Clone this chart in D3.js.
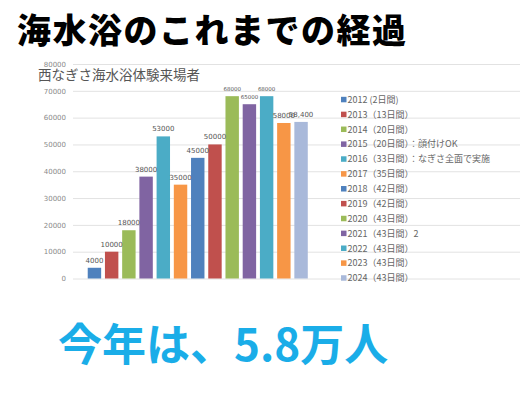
<!DOCTYPE html>
<html>
<head>
<meta charset="utf-8">
<script src="https://cdn.jsdelivr.net/npm/d3@7"></script>
<style>
  body { margin: 0; background: #fff; }
  svg { display: block; }
</style>
</head>
<body>
<div id="chart"></div>
<script>
// data
const years = ["2012", "2013", "2014", "2015", "2016", "2017", "2018", "2019", "2020", "2021", "2022", "2023", "2024"];
const visitors = [4000, 10000, 18000, 38000, 53000, 35000, 45000, 50000, 68000, 65000, 68000, 58000, 58400];
const valueLabels = ["4000", "10000", "18000", "38000", "53000", "35000", "45000", "50000", "68000", "65000", "68000", "58000", "58,400"];
const legendLabels = [
  "2012 (2日間)",
  "2013（13日間）",
  "2014（20日間）",
  "2015（20日間）：顔付けOK",
  "2016（33日間）：なぎさ全面で実施",
  "2017（35日間）",
  "2018（42日間）",
  "2019（42日間）",
  "2020（43日間）",
  "2021（43日間）2",
  "2022（43日間）",
  "2023（43日間）",
  "2024（43日間）"
];
const yTicks = [0, 10000, 20000, 30000, 40000, 50000, 60000, 70000, 80000];
const colors = ["#4F81BD", "#C0504D", "#9BBB59", "#8064A2", "#4BACC6", "#F79646",
  "#4F81BD", "#C0504D", "#9BBB59", "#8064A2", "#4BACC6", "#F79646", "#A9B9DA"];

const W = 525, H = 393;
const font = "'Noto Sans CJK JP', 'Noto Sans', sans-serif";

const svg = d3.select("#chart").append("svg")
  .attr("width", W)
  .attr("height", H);

// heading
svg.append("text")
  .attr("x", 17)
  .attr("y", 43)
  .attr("font-family", font)
  .attr("font-size", 34)
  .attr("font-weight", 900)
  .attr("letter-spacing", 1.5)
  .attr("fill", "#000")
  .text("海水浴のこれまでの経過");

// ************** chart area *****************
const x = d3.scaleBand()
  .domain(years)
  .range([86, 309.5])
  .paddingInner(0.22)
  .paddingOuter(0.1);

const y = d3.scaleLinear()
  .domain([0, 80000])
  .range([278.5, 64]);

// gridlines
svg.append("g")
  .selectAll("line")
  .data(yTicks)
  .join("line")
  .attr("x1", 73)
  .attr("x2", 520)
  .attr("y1", d => y(d) + 0.5)
  .attr("y2", d => y(d) + 0.5)
  .attr("stroke", "#e2e2e2")
  .attr("stroke-width", 1);

// y axis labels
const yAxis = d3.axisLeft(y).tickValues(yTicks).tickFormat(d3.format("d")).tickSize(0).tickPadding(0);
const yg = svg.append("g")
  .attr("transform", "translate(66,0)")
  .call(yAxis);
yg.select(".domain").remove();
yg.selectAll("text")
  .attr("font-family", "'DejaVu Sans', sans-serif")
  .attr("font-size", 7)
  .attr("fill", "#8a8a8a");

// chart title
svg.append("text")
  .attr("x", 38)
  .attr("y", 80)
  .attr("font-family", font)
  .attr("font-size", 13.5)
  .attr("fill", "#555")
  .text("西なぎさ海水浴体験来場者");

// bars
svg.append("g")
  .selectAll("rect")
  .data(visitors)
  .join("rect")
  .attr("x", (d, i) => x(years[i]))
  .attr("y", d => y(d))
  .attr("width", x.bandwidth())
  .attr("height", d => y(0) - y(d))
  .attr("fill", (d, i) => colors[i]);

// value labels
svg.append("g")
  .selectAll("text")
  .data(visitors)
  .join("text")
  .attr("x", (d, i) => x(years[i]) + x.bandwidth() / 2)
  .attr("y", d => y(d) - 5)
  .attr("text-anchor", "middle")
  .attr("font-family", "'DejaVu Sans', sans-serif")
  .attr("font-size", d => d >= 60000 ? 5.5 : 7)
  .attr("fill", "#555")
  .text((d, i) => valueLabels[i]);

// legend
const legend = svg.append("g")
  .selectAll("g")
  .data(legendLabels)
  .join("g")
  .attr("transform", (d, i) => `translate(341,${99.3 + i * 14.87})`);

legend.append("rect")
  .attr("x", 0)
  .attr("y", -2.5)
  .attr("width", 5.5)
  .attr("height", 5.5)
  .attr("fill", (d, i) => colors[i]);

legend.append("text")
  .attr("x", 6.5)
  .attr("y", 3.5)
  .attr("font-family", font)
  .attr("font-size", 9)
  .attr("fill", "#666")
  .text(d => d);

// bottom message
svg.append("text")
  .attr("x", 58)
  .attr("y", 361)
  .attr("font-family", font)
  .attr("font-size", 44)
  .attr("font-weight", 700)
  .attr("fill", "#1AADE8")
  .text("今年は、5.8万人");
</script>
</body>
</html>
